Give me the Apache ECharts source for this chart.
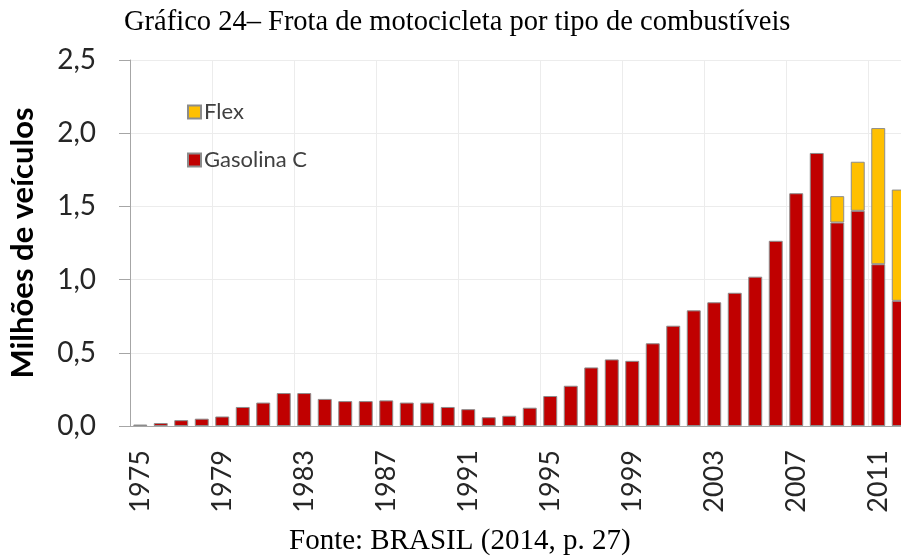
<!DOCTYPE html>
<html>
<head>
<meta charset="utf-8">
<script src="https://cdn.jsdelivr.net/npm/echarts@6/dist/echarts.min.js"></script>
<style>
  html, body { margin: 0; padding: 0; background: #fff; }
  #chart { width: 901px; height: 560px; }
</style>
</head>
<body>
<div id="chart"></div>
<script>
// anos (eixo x)
const anos = [
  "1975", "1976", "1977", "1978", "1979", "1980", "1981", "1982", "1983", "1984",
  "1985", "1986", "1987", "1988", "1989", "1990", "1991", "1992", "1993", "1994",
  "1995", "1996", "1997", "1998", "1999", "2000", "2001", "2002", "2003", "2004",
  "2005", "2006", "2007", "2008", "2009", "2010", "2011", "2012"
];
// milhões de veículos - gasolina C
const gasolinaC = [
  0.01, 0.02, 0.04, 0.05, 0.065, 0.13, 0.16, 0.225, 0.225, 0.185,
  0.17, 0.17, 0.175, 0.16, 0.16, 0.13, 0.115, 0.06, 0.07, 0.125,
  0.205, 0.275, 0.40, 0.455, 0.445, 0.565, 0.685, 0.79, 0.845, 0.91,
  1.02, 1.265, 1.59, 1.865, 1.39, 1.47, 1.105, 0.855
];
// milhões de veículos - flex
const flex = [
  null, null, null, null, null, null, null, null, null, null,
  null, null, null, null, null, null, null, null, null, null,
  null, null, null, null, null, null, null, null, null, null,
  null, null, null, null, 0.18, 0.335, 0.93, 0.76
];
const yTicks = [0, 0.5, 1.0, 1.5, 2.0, 2.5];

const myChart = echarts.init(document.getElementById("chart"));
const option = {
  animation: false,
  title: [
    {
      text: "Gráfico 24– Frota de motocicleta por tipo de combustíveis",
      left: 119,
      top: 3,
      textStyle: {
        fontFamily: "Liberation Serif",
        fontWeight: "normal",
        fontSize: 28.5,
        color: "#000"
      }
    },
    {
      text: "Fonte: BRASIL (2014, p. 27)",
      left: 284,
      top: 522,
      textStyle: {
        fontFamily: "Liberation Serif",
        fontWeight: "normal",
        fontSize: 29,
        color: "#000"
      }
    }
  ],
  legend: {
    orient: "vertical",
    left: 182,
    top: 96,
    icon: "rect",
    itemWidth: 13,
    itemHeight: 13,
    itemGap: 26,
    data: ["Flex", "Gasolina C"],
    textStyle: {
      fontFamily: "Lato",
      fontSize: 22,
      color: "#404040",
      padding: [0, 0, 0, -2]
    }
  },
  grid: {
    left: 130,
    top: 60,
    width: 779,
    height: 366,
    outerBoundsMode: "none"
  },
  xAxis: {
    type: "category",
    data: anos,
    boundaryGap: true,
    axisLine: { lineStyle: { color: "#a6a6a6", width: 1 } },
    axisTick: {
      interval: 3,
      alignWithLabel: false,
      length: 10,
      lineStyle: { color: "#a6a6a6" }
    },
    axisLabel: {
      interval: 3,
      rotate: 90,
      margin: 24,
      fontFamily: "Lato",
      fontSize: 27,
      color: "#262626"
    },
    splitLine: {
      show: true,
      interval: 3,
      lineStyle: { color: "#ececec", width: 1 }
    }
  },
  yAxis: {
    type: "value",
    min: yTicks[0],
    max: yTicks[yTicks.length - 1],
    interval: 0.5,
    name: "Milhões de veículos",
    nameLocation: "middle",
    nameRotate: 90,
    nameGap: 92,
    nameTextStyle: {
      fontFamily: "Lato",
      fontWeight: "bold",
      fontSize: 31,
      color: "#000"
    },
    axisLine: { show: true, lineStyle: { color: "#a6a6a6", width: 1 } },
    axisTick: { show: true, length: 11, lineStyle: { color: "#a6a6a6" } },
    axisLabel: {
      margin: 34,
      fontFamily: "Lato",
      fontSize: 28,
      color: "#262626",
      formatter: function (v) {
        return v.toFixed(1).replace(".", ",");
      }
    },
    splitLine: { lineStyle: { color: "#ececec", width: 1 } }
  },
  series: [
    {
      name: "Gasolina C",
      type: "bar",
      stack: "total",
      barCategoryGap: "32%",
      itemStyle: { color: "#C00000", borderColor: "#8c8c8c", borderWidth: 1 },
      data: gasolinaC
    },
    {
      name: "Flex",
      type: "bar",
      stack: "total",
      barCategoryGap: "32%",
      itemStyle: { color: "#FFC000", borderColor: "#8c8c8c", borderWidth: 1 },
      data: flex
    }
  ]
};
myChart.setOption(option);
</script>
</body>
</html>
